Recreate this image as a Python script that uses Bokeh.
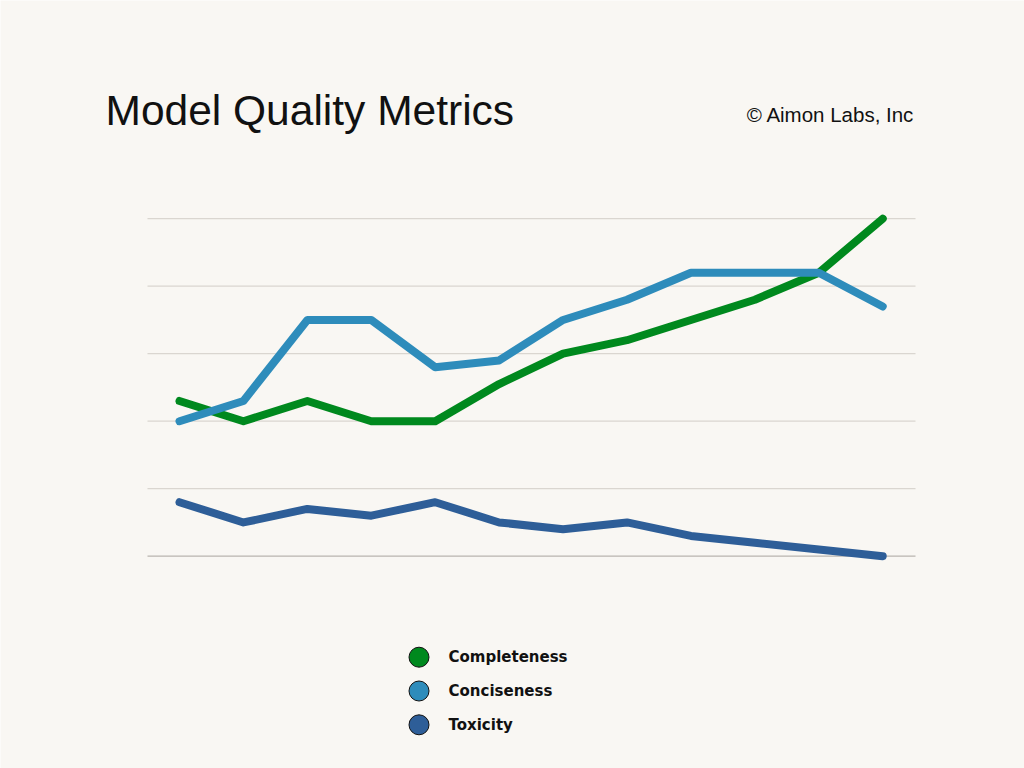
from bokeh.plotting import figure
from bokeh.models import Range1d
from bokeh.core.properties import value
from bokeh.embed import file_html
from bokeh.resources import INLINE

# ---- data ----
runs = list(range(1, 13))
completeness = [46, 40, 46, 40, 40, 51, 60, 64, 70, 76, 84, 100]
conciseness = [40, 46, 70, 70, 56, 58, 70, 76, 84, 84, 84, 74]
toxicity = [16, 10, 14, 12, 16, 10, 8, 10, 6, 4, 2, 0]
y_ticks = [0, 20, 40, 60, 80, 100]
series_names = ["Completeness", "Conciseness", "Toxicity"]
series_colors = ["#00891E", "#2E8CBB", "#2E5E98"]
title_text = "Model Quality Metrics"
credit_text = "\u00a9 Aimon Labs, Inc"

# ---- layout ----
W, H = 1024, 768
BG = "#F9F7F3"
X0_PX, DX_PX = 179.0, 63.93      # pixel of first run, pixels per run
Y0_PX, DY_PX = 555.7, 3.375      # pixel of value 0, pixels per unit


def xd(px):
    return runs[0] + (px - X0_PX) / DX_PX


def yd(py):
    return (Y0_PX - py) / DY_PX


p = figure(width=W, height=H, output_backend="svg", toolbar_location=None,
           x_range=Range1d(xd(0), xd(W)), y_range=Range1d(yd(H), yd(0)),
           x_axis_location=None, y_axis_location=None,
           min_border=0, background_fill_color=BG, border_fill_color=BG,
           outline_line_color=None)
p.grid.visible = False

# grid lines
n = len(y_ticks)
grid_colors = ["#B9B5AF" if t == 0 else "#DAD6D0" for t in y_ticks]
p.segment(x0=[xd(147)] * n, x1=[xd(915)] * n, y0=y_ticks, y1=y_ticks,
          line_color=grid_colors, line_width=1.2)

# series lines
series_values = [completeness, conciseness, toxicity]
for idx in [2, 0, 1]:
    p.line(runs, series_values[idx], line_color=series_colors[idx], line_width=8,
           line_cap="round", line_join="round")

# legend
leg_y = [yd(656.7 + 33.8 * i) for i in range(len(series_names))]
p.scatter(x=[xd(418.5)] * len(series_names), y=leg_y, size=20,
          fill_color=series_colors, line_color="#111111", line_width=1)
p.text(x=[xd(448)] * len(series_names), y=[yd(656.5 + 33.8 * i) for i in range(len(series_names))],
       text=series_names, text_font=value("DejaVu Sans"), text_font_style="bold",
       text_font_size="15px", text_baseline="alphabetic", text_align="left",
       text_color="#111111")

# title and credit
p.text(x=[xd(105)], y=[yd(110.3)], text=[title_text], text_font=value("Liberation Sans"),
       text_font_size="42.5px", text_baseline="alphabetic", text_align="left",
       text_color="#111111")
p.text(x=[xd(914)], y=[yd(113.7)], text=[credit_text], text_font=value("Liberation Sans"),
       text_font_size="20.5px", text_baseline="alphabetic", text_align="right",
       text_color="#111111")

open("out.html", "w").write(file_html(p, INLINE))
